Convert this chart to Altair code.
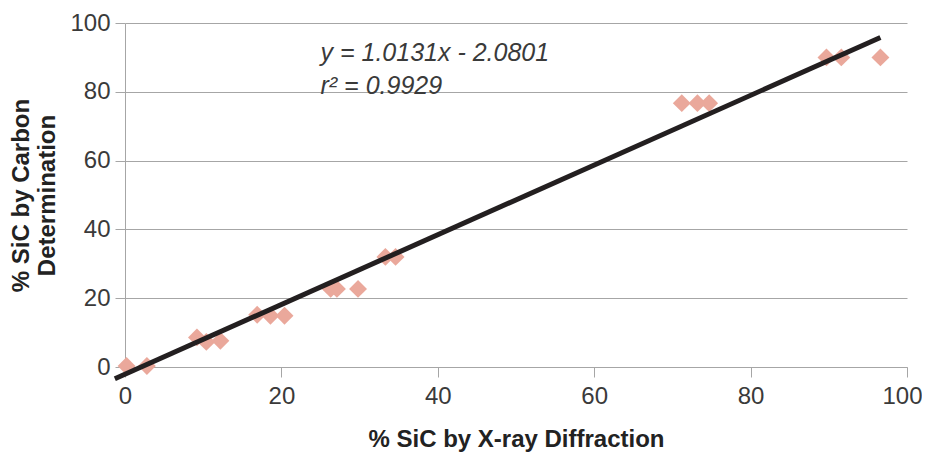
import altair as alt
import pandas as pd

# measured points (% SiC by X-ray diffraction, % SiC by carbon determination)
xrd = [0.2, 2.8, 9.2, 10.4, 12.2, 16.9, 18.6, 20.4, 26.3, 27.1, 29.8, 33.3, 34.6,
       71.2, 73.2, 74.7, 89.7, 91.6, 96.6]
carbon = [0.3, 0.3, 8.6, 7.3, 7.6, 15.2, 14.9, 14.9, 22.7, 22.7, 22.7, 32.0, 32.0,
          76.7, 76.7, 76.7, 90.0, 90.0, 90.0]

slope = 1.0131
intercept = -2.0801
trend_x = [-1.3, 96.6]

ann_text = ["y = 1.0131x - 2.0801", "r\u00b2 = 0.9929"]
ann_x = [25.0, 25.0]
ann_y = [89.0, 79.4]

pts = pd.DataFrame({"x": xrd, "y": carbon})
trend = pd.DataFrame({"x": trend_x, "y": [slope * v + intercept for v in trend_x]})
ann = pd.DataFrame({"t": ann_text, "x": ann_x, "y": ann_y})

FONT = "Liberation Sans"
xs = alt.Scale(domain=[0, 100], nice=False, zero=False)
ys = alt.Scale(domain=[0, 100], nice=False, zero=False)

xaxis = alt.Axis(values=[0, 20, 40, 60, 80, 100], grid=False, tickSize=10, labelFlush=False,
                 labelOffset={"condition": {"test": "datum.value == 100", "value": -5}, "value": 0},
                 title="% SiC by X-ray Diffraction", labelPadding=7, titlePadding=19)
yaxis = alt.Axis(values=[0, 20, 40, 60, 80, 100], grid=True, tickSize=10, labelFlush=False,
                 title=["% SiC by Carbon", "Determination"], labelPadding=5, titlePadding=10)

points = alt.Chart(pts).mark_point(shape="diamond", filled=True, size=320,
                                   color="#EAA89B", opacity=1).encode(
    x=alt.X("x:Q", scale=xs, axis=xaxis),
    y=alt.Y("y:Q", scale=ys, axis=yaxis),
)

line = alt.Chart(trend).mark_line(color="#231F20", strokeWidth=5).encode(
    x=alt.X("x:Q", scale=xs),
    y=alt.Y("y:Q", scale=ys),
)

text = alt.Chart(ann).mark_text(font=FONT, fontSize=25, fontStyle="italic",
                                color="#3a3a3a", align="left", baseline="alphabetic").encode(
    x=alt.X("x:Q", scale=xs),
    y=alt.Y("y:Q", scale=ys),
    text="t:N",
)

chart = alt.layer(points, line, text).properties(
    width=782, height=344,
    autosize=alt.AutoSizeParams(type="none"),
    padding={"left": 117, "top": 15, "right": 15, "bottom": 86},
).configure_view(stroke=None).configure_axis(
    labelFont=FONT, labelFontSize=24, labelColor="#3a3a3a",
    titleFont=FONT, titleFontSize=24, titleFontWeight="bold", titleColor="#222222",
    titleLineHeight=26,
    gridColor="#A6A6A6", gridWidth=1, domainColor="#A6A6A6", domainWidth=1,
    tickColor="#A6A6A6", tickWidth=1,
)

chart.save("out.html", embed_options={"renderer": "svg", "actions": False})
